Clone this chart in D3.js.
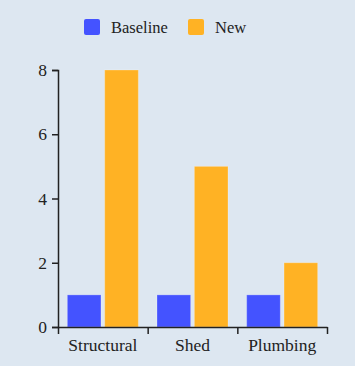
<!DOCTYPE html>
<html><head><meta charset="utf-8">
<script src="https://cdn.jsdelivr.net/npm/d3@7"></script>
<style>
html,body{margin:0;padding:0;background:#dde7f1;}
svg{display:block;font-family:"Liberation Serif",serif;}
</style></head>
<body><svg id="c" width="355" height="366"></svg>
<script>
const categories = ["Structural", "Shed", "Plumbing"];
const seriesNames = ["Baseline", "New"];
const baselineValues = [1, 1, 1];
const newValues = [8, 5, 2];
const yTicks = [0, 2, 4, 6, 8];
const colors = ["#4453ff", "#ffb224"];

const svg = d3.select("#c");
const W = 355, H = 366;
const m = {left: 58, right: 28, top: 70, bottom: 39};
const x = d3.scaleBand().domain(categories).range([m.left, W - m.right]).paddingInner(0).paddingOuter(0);
const xs = d3.scaleBand().domain(seriesNames).range([0, x.bandwidth()]).paddingInner(0.1).paddingOuter(0.25);
const y = d3.scaleLinear().domain([0, 8]).range([H - m.bottom, m.top]);

const data = categories.map((c, i) => ({cat: c, vals: [baselineValues[i], newValues[i]]}));

const g = svg.append("g");
g.selectAll("g.grp").data(data).join("g").attr("class", "grp")
  .attr("transform", d => `translate(${x(d.cat)},0)`)
  .selectAll("rect").data(d => d.vals.map((v, j) => ({s: seriesNames[j], v, j})))
  .join("rect")
  .attr("x", d => xs(d.s)).attr("width", xs.bandwidth())
  .attr("y", d => y(d.v)).attr("height", d => y(0) - y(d.v))
  .attr("fill", d => colors[d.j])
  .attr("stroke", "rgba(255,255,255,0.25)").attr("stroke-width", 1);

const fs = 17.5;
const ff = "Liberation Serif";
// y axis
const ya = svg.append("g").attr("transform", `translate(${m.left},0)`)
  .call(d3.axisLeft(y).tickValues(yTicks).tickSize(6).tickPadding(5).tickFormat(d3.format("d")));
ya.select(".domain").attr("stroke", "#222").attr("stroke-width", 1.5);
ya.selectAll(".tick line").attr("stroke", "#222").attr("stroke-width", 1.5);
ya.selectAll(".tick text").attr("fill", "#222").style("font-size", fs + "px").style("font-family", ff);

// x axis: boundary ticks
const xb = d3.scaleLinear().domain([0, categories.length]).range([m.left, W - m.right]);
const xa = svg.append("g").attr("transform", `translate(0,${H - m.bottom})`)
  .call(d3.axisBottom(xb).tickValues(d3.range(categories.length + 1)).tickSize(7).tickSizeOuter(0).tickFormat(""));
xa.select(".domain").attr("stroke", "#222").attr("stroke-width", 1.5);
xa.selectAll(".tick line").attr("stroke", "#222").attr("stroke-width", 1.5);
// x labels
const xl = svg.append("g").attr("transform", `translate(0,${H - m.bottom})`)
  .call(d3.axisBottom(x).tickSize(0).tickPadding(12));
xl.select(".domain").remove();
xl.selectAll(".tick text").attr("fill", "#222").style("font-size", fs + "px").style("font-family", ff);

// legend
const leg = svg.append("g");
const lx = [84, 188];
seriesNames.forEach((s, i) => {
  leg.append("rect").attr("x", lx[i]).attr("y", 19).attr("width", 16).attr("height", 16).attr("rx", 2).attr("fill", colors[i]);
  leg.append("text").attr("x", lx[i] + 27).attr("y", 27).attr("dy", "0.35em")
    .attr("fill", "#222").style("font-size", "16.5px").style("font-family", ff).text(s);
});
</script></body></html>
